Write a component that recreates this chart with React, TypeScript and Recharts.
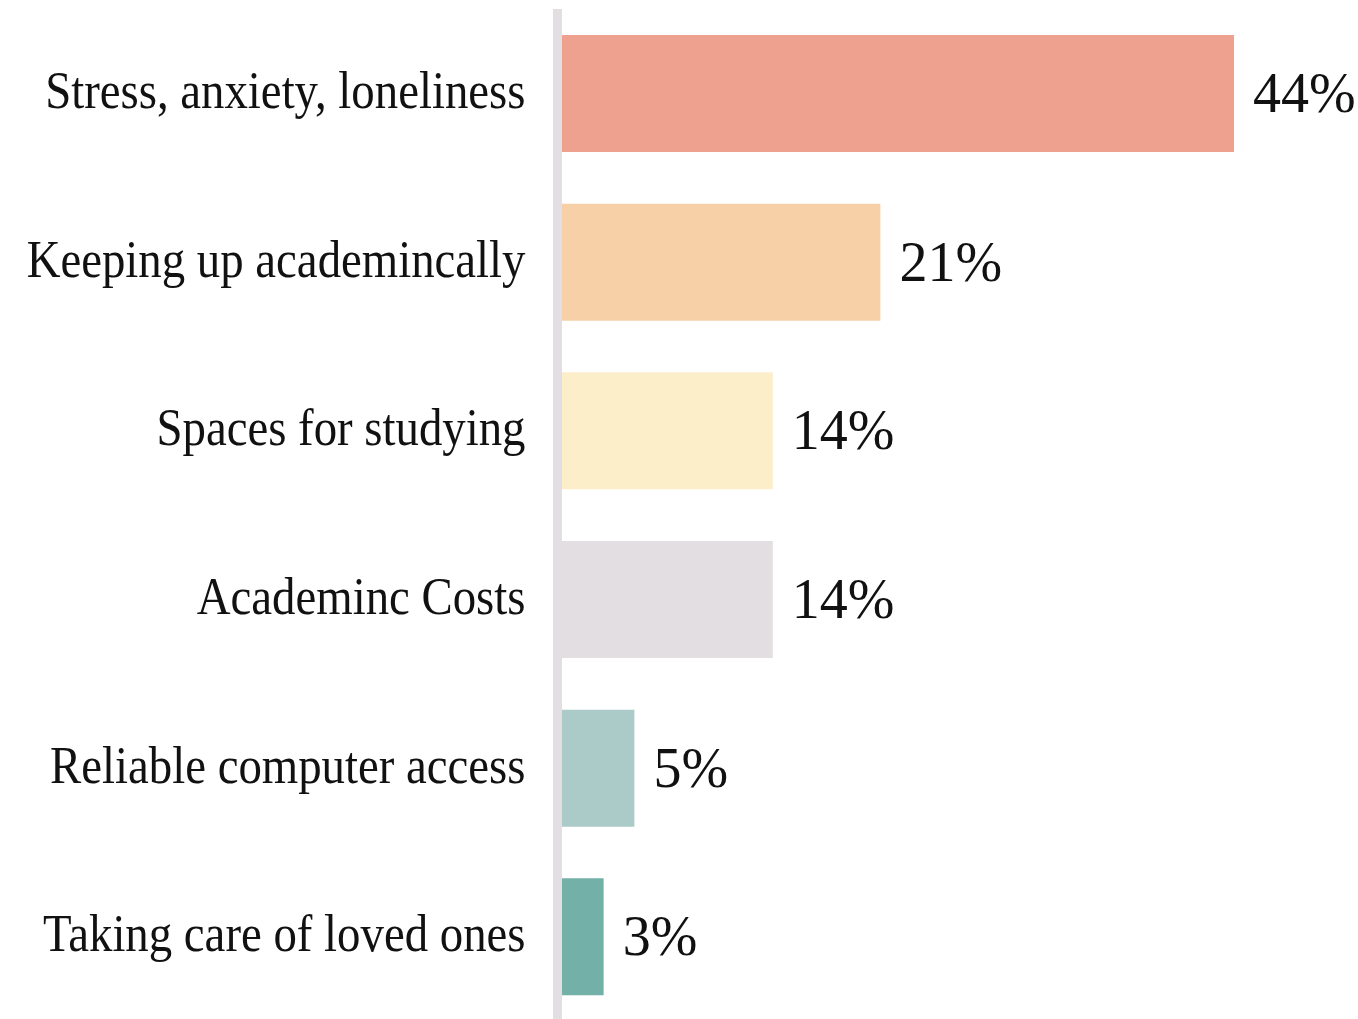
import { Bar, BarChart, Cell, LabelList, ReferenceLine, XAxis, YAxis } from 'recharts';

const categories = [
  'Stress, anxiety, loneliness',
  'Keeping up academincally',
  'Spaces for studying',
  'Academinc Costs',
  'Reliable computer access',
  'Taking care of loved ones',
];
const shares = [44, 21, 14, 14, 5, 3];
const colors = ['#EEA18F', '#F7D0A7', '#FDEECA', '#E3DEE1', '#ABCBC8', '#72B0A8'];

const data = categories.map((name, i) => ({ name, value: shares[i] }));

const serif = '"Liberation Serif", "DejaVu Serif", serif';

// condensed serif category names, right-aligned against the axis line
function CategoryTick({ x, y, payload }: any) {
  return (
    <g transform={`translate(${x},${y}) scale(0.9,1)`}>
      <text x={0} y={0} dy="0.28em" textAnchor="end" fontFamily={serif} fontSize={52} fill="#111">
        {payload.value}
      </text>
    </g>
  );
}

function ValueLabel({ x, y, width, height, value }: any) {
  return (
    <text
      x={x + width + 19}
      y={y + height / 2}
      dy="0.33em"
      fontFamily={serif}
      fontSize={56}
      fill="#111"
    >
      {value}%
    </text>
  );
}

export default function App() {
  return (
    <div style={{ position: 'absolute', top: 0, left: 0, width: 1358, height: 1019, overflow: 'hidden', background: '#fff' }}>
      <BarChart
        width={1358}
        height={1021}
        data={data}
        layout="vertical"
        margin={{ top: 9, right: 124, bottom: 0, left: 0 }}
        barCategoryGap={26}
      >
        <XAxis type="number" domain={[0, 44]} hide />
        <YAxis
          type="category"
          dataKey="name"
          width={557.5}
          axisLine={false}
          tickLine={false}
          tickSize={0}
          tickMargin={32}
          tick={<CategoryTick />}
        />
        <Bar dataKey="value" isAnimationActive={false}>
          {data.map((d, i) => (
            <Cell key={d.name} fill={colors[i]} />
          ))}
          <LabelList dataKey="value" content={<ValueLabel />} />
        </Bar>
        <ReferenceLine x={0} stroke="#E3DEE1" strokeWidth={9} />
      </BarChart>
    </div>
  );
}
